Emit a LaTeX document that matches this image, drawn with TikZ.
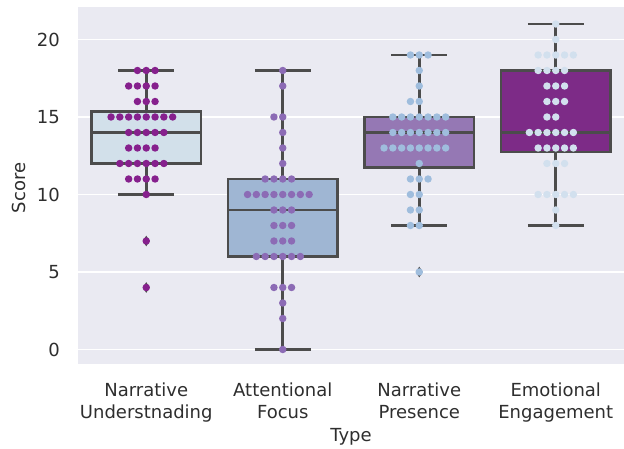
\documentclass[tikz,border=0pt]{standalone}
\usepackage{fontspec}
\setmainfont{DejaVu Sans}
\usepackage{xcolor}
\usetikzlibrary{positioning}
\definecolor{bgpanel}{HTML}{EAEAF2}
\definecolor{boxline}{HTML}{4C4C4C}
\definecolor{ticktext}{HTML}{2E2E2E}
\definecolor{boxA}{HTML}{D2E0EA}
\definecolor{boxB}{HTML}{9FB6D3}
\definecolor{boxC}{HTML}{9578B4}
\definecolor{boxD}{HTML}{7D2B87}
\definecolor{dotA}{HTML}{86208D}
\definecolor{dotB}{HTML}{8C6BB5}
\definecolor{dotC}{HTML}{9FBDDD}
\definecolor{dotD}{HTML}{D2E0EE}
\newcommand{\plotfont}{\fontsize{13.5}{16.2}\selectfont}
% box with whiskers: x, low, q1, median, q3, high, fill
\newcommand{\boxwhisk}[7]{%
  \draw[whisk] (#1,#2) -- (#1,#3) (#1,#5) -- (#1,#6);
  \draw[whisk] (#1-0.205,#2) -- (#1+0.205,#2) (#1-0.205,#6) -- (#1+0.205,#6);
  \draw[whisk, fill=#7] (#1-0.4,#3) rectangle (#1+0.4,#5);
  \draw[whisk] (#1-0.4,#4) -- (#1+0.4,#4);}
% one row of a swarm: x, value, count, colour
\newcommand{\swarmrow}[4]{%
  \foreach \k in {1,...,#3}{
    \fill[#4] ({#1+(\k-1-floor(#3/2))*0.0645},#2) circle[radius=2.8pt];}}
\newcommand{\flier}[2]{%
  \fill[boxline] (#1,#2) ++(0,4pt) -- ++(2.6pt,-4pt) -- ++(-2.6pt,-4pt) -- ++(-2.6pt,4pt) -- cycle;}

\begin{document}
\begin{tikzpicture}[x=0.75pt, y=0.75pt,
  ticklab/.style={font=\plotfont, text=ticktext, inner sep=0pt},
  whisk/.style={draw=boxline, line width=1.9pt},
  gridline/.style={white, line width=1.2pt}]
  % Canvas and panel
  \useasboundingbox (0,0) rectangle (624,449);
  \fill[bgpanel] (78,85) rectangle (624,442);

  \begin{scope}[shift={(58.5pt,74.625pt)}, x=102.375pt, y=11.625pt]
    % Grid
    \foreach \v in {0,5,...,20}
      \draw[gridline] (0,\v) -- (4,\v);
    % Boxes
    \boxwhisk{0.5}{10}{12}{14}{15.35}{18}{boxA}
    \boxwhisk{1.5}{0}{6}{9}{11}{18}{boxB}
    \boxwhisk{2.5}{8}{11.75}{14}{15}{19}{boxC}
    \boxwhisk{3.5}{8}{12.75}{14}{18}{21}{boxD}
    % Outliers
    \flier{0.5}{7} \flier{0.5}{4} \flier{2.5}{5}
    % Swarms
    \foreach \v/\n in {18/3,17/4,16/3,15/8,14/5,13/4,12/6,11/4,10/1,7/1,4/1}
      {\swarmrow{0.5}{\v}{\n}{dotA}}
    \foreach \v/\n in {18/1,17/1,15/2,14/1,13/1,12/1,11/4,10/8,9/3,8/3,7/3,6/6,4/3,3/1,2/1,0/1}
      {\swarmrow{1.5}{\v}{\n}{dotB}}
    \foreach \v/\n in {19/3,18/1,17/1,16/2,15/7,14/7,13/8,12/1,11/3,10/2,9/2,8/2,5/1}
      {\swarmrow{2.5}{\v}{\n}{dotC}}
    \foreach \v/\n in {21/1,20/1,19/5,18/4,17/3,16/3,15/2,14/6,13/5,12/3,10/5,9/1,8/1}
      {\swarmrow{3.5}{\v}{\n}{dotD}}
  \end{scope}

  % Tick labels
  \foreach \v in {0,5,...,20}
    \node[ticklab, anchor=east] (y\v) at (60,99.5+15.5*\v) {\v};
  \node[ticklab, anchor=north, align=center] (xNU) at (146.25,66) {Narrative\\Understnading};
  \node[ticklab, anchor=north, align=center] (xAF) at (282.75,66) {Attentional\\Focus};
  \node[ticklab, anchor=north, align=center] (xNP) at (419.25,66) {Narrative\\Presence};
  \node[ticklab, anchor=north, align=center] (xEE) at (555.75,66) {Emotional\\Engagement};
  % Axis labels
  \node[ticklab, anchor=base] (xlab) at (351,7.5) {Type};
  \node[ticklab, anchor=base, rotate=90] (ylab) at (25,261) {Score};
\end{tikzpicture}
\end{document}
